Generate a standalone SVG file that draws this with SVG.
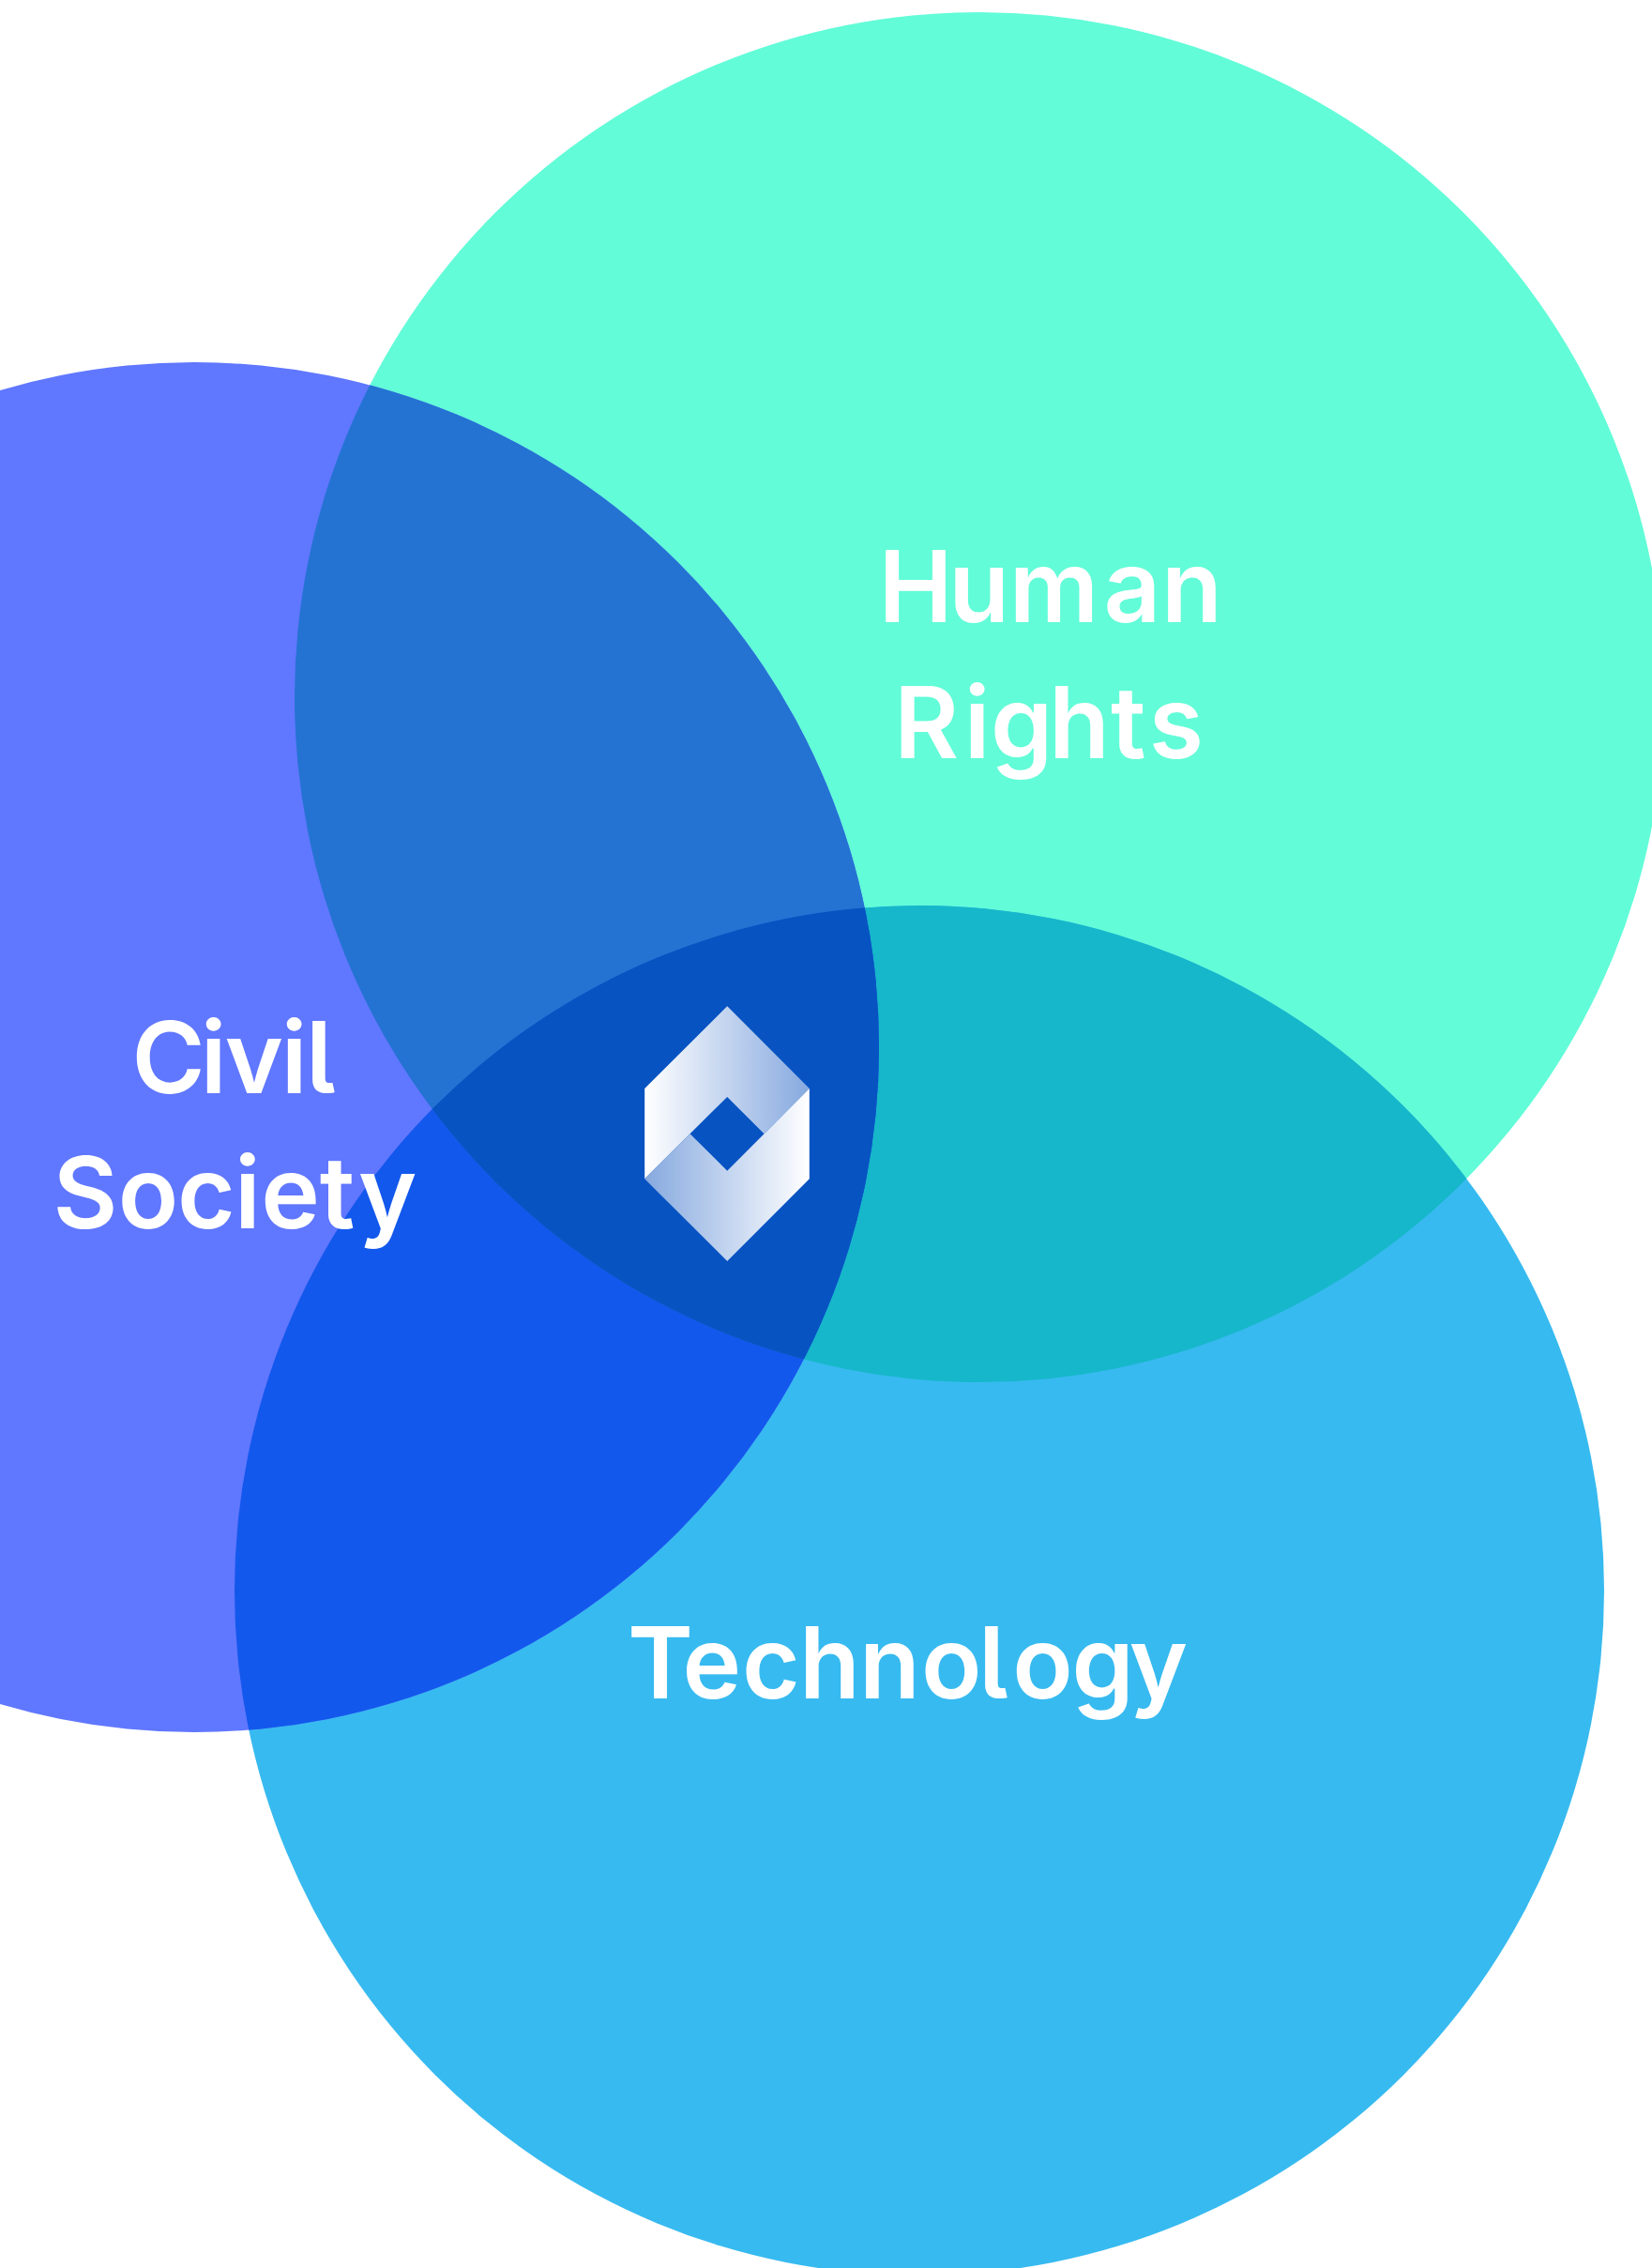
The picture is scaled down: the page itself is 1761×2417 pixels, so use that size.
<svg xmlns="http://www.w3.org/2000/svg" width="1761" height="2417" viewBox="0 0 1761 2417">
<style>
.label{font-family:"Inter","Liberation Sans",sans-serif;font-weight:620;font-size:106px;fill:#fff;font-feature-settings:"cv05"}
</style>
<defs>
<clipPath id="cH"><circle cx="1044" cy="743" r="730"/></clipPath>
<clipPath id="cC"><circle cx="207" cy="1116" r="730"/></clipPath>
<linearGradient id="gU" gradientUnits="userSpaceOnUse" x1="687.2" y1="0" x2="862.8" y2="0"><stop offset="0" stop-color="#fff"/><stop offset="1" stop-color="#86A9DF"/></linearGradient>
<linearGradient id="gL" gradientUnits="userSpaceOnUse" x1="862.8" y1="0" x2="687.2" y2="0"><stop offset="0" stop-color="#fff"/><stop offset="1" stop-color="#86A9DF"/></linearGradient>
</defs>
<rect width="1761" height="2417" fill="#fff"/>
<g id="circle-human-rights"><circle cx="1044" cy="743" r="730" fill="#62FCD8"/></g>
<g id="circle-technology"><circle cx="980" cy="1695" r="730" fill="#37BAF0"/></g>
<g id="circle-civil-society"><circle cx="207" cy="1116" r="730" fill="#6077FF"/></g>
<g id="overlaps">
<g clip-path="url(#cH)"><circle cx="980" cy="1695" r="730" fill="#16B7CA"/></g>
<g clip-path="url(#cC)"><circle cx="980" cy="1695" r="730" fill="#1358EC"/></g>
<g clip-path="url(#cC)"><circle cx="1044" cy="743" r="730" fill="#2473D3"/></g>
<g clip-path="url(#cC)"><g clip-path="url(#cH)"><circle cx="980" cy="1695" r="730" fill="#0753C2"/></g></g>
</g>
<g id="logo">
<polygon points="687.2,1160 775.2,1072.3 862.8,1160 814.5,1208.3 775.2,1169 687.2,1256.3" fill="url(#gU)"/>
<polygon points="862.8,1160 862.8,1256.3 775.2,1344 687.2,1256.3 735.5,1208.3 775.2,1247.7" fill="url(#gL)"/>
</g>
<g id="label-human-rights">
<text class="label" x="936.5 1011.3 1075.7 1176.5 1238" y="663">Human</text>
<text class="label" x="953 1027.7 1056 1118 1184 1224.7" y="807.7">Rights</text>
</g>
<g id="label-civil-society">
<text class="label" x="140.5 213.7 239.7 299.7 326" y="1165">Civil</text>
<text class="label" x="56.5 125.7 189 250 278.3 340.7 382" y="1309">Society</text>
</g>
<g id="label-technology">
<text class="label" x="669 727.5 791 852 916 982 1043 1079.3 1142.6 1203.7" y="1810">Technology</text>
</g>
<g id="connectors"/>
</svg>
